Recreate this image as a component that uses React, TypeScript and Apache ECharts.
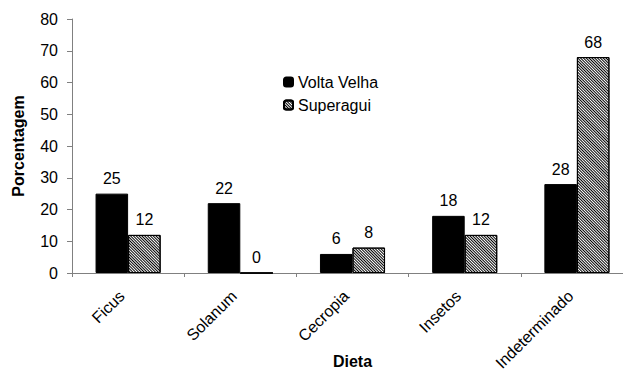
import React, { useEffect, useRef } from "react";
import * as echarts from "echarts";

const categories = ["Ficus", "Solanum", "Cecropia", "Insetos", "Indeterminado"];
const voltaVelha = [25, 22, 6, 18, 28];
const superagui = [12, 0, 8, 12, 68];
const yTicks = { min: 0, max: 80, interval: 10 };

export default function App() {
  const ref = useRef<HTMLDivElement>(null);
  useEffect(() => {
    if (!ref.current) return;
    const chart = echarts.init(ref.current, null, { renderer: "svg" });
    const font = "Liberation Sans, Arial, sans-serif";
    const hatch = {
      symbol: "rect",
      symbolSize: 1,
      dashArrayX: [1, 0],
      dashArrayY: [1, 1],
      rotation: Math.PI / 4,
      color: "#000",
    };
    chart.setOption({
      animation: false,
      backgroundColor: "#fff",
      textStyle: { fontFamily: font },
      grid: {
        left: 72,
        right: -10,
        top: 19,
        bottom: 98,
        containLabel: false,
        outerBoundsMode: "none",
      },
      legend: {
        orient: "vertical",
        left: 278,
        top: 69,
        itemWidth: 9,
        itemHeight: 9,
        itemGap: 7,
        textStyle: { fontSize: 16, color: "#000", fontFamily: font },
        data: ["Volta Velha", "Superagui"],
      },
      xAxis: {
        type: "category",
        data: categories,
        name: "Dieta",
        nameLocation: "middle",
        nameGap: 80,
        nameMoveOverlap: false,
        nameTextStyle: { fontWeight: "bold", fontSize: 16, color: "#000", fontFamily: font },
        axisLine: { lineStyle: { color: "#808080" } },
        axisTick: { show: true, length: 4, lineStyle: { color: "#808080" } },
        axisLabel: {
          rotate: 45,
          fontSize: 16,
          color: "#000",
          margin: 14,
          padding: [0, 9, 0, 0],
          fontFamily: font,
        },
      },
      yAxis: {
        type: "value",
        min: yTicks.min,
        max: yTicks.max,
        interval: yTicks.interval,
        name: "Porcentagem",
        nameLocation: "middle",
        nameGap: 46,
        nameMoveOverlap: false,
        nameTextStyle: { fontWeight: "bold", fontSize: 16, color: "#000", fontFamily: font },
        axisLine: { show: true, lineStyle: { color: "#808080" } },
        axisTick: { show: true, length: 5, lineStyle: { color: "#808080" } },
        axisLabel: { fontSize: 16, color: "#000", margin: 14, fontFamily: font },
        splitLine: { show: false },
      },
      series: [
        {
          name: "Volta Velha",
          type: "bar",
          data: voltaVelha,
          barGap: "0%",
          barCategoryGap: "42%",
          itemStyle: { color: "#000", borderColor: "#000", borderWidth: 1 },
          label: { show: true, position: "top", fontSize: 16, color: "#000", distance: 7, fontFamily: font },
        },
        {
          name: "Superagui",
          type: "bar",
          data: superagui,
          barGap: "0%",
          barCategoryGap: "42%",
          itemStyle: { color: "#fff", borderColor: "#000", borderWidth: 1, decal: hatch },
          label: { show: true, position: "top", fontSize: 16, color: "#000", distance: 7, fontFamily: font },
        },
      ],
    });
    return () => chart.dispose();
  }, []);
  return (
    <div
      ref={ref}
      style={{ position: "fixed", left: 0, top: 0, width: 623, height: 371 }}
    />
  );
}
